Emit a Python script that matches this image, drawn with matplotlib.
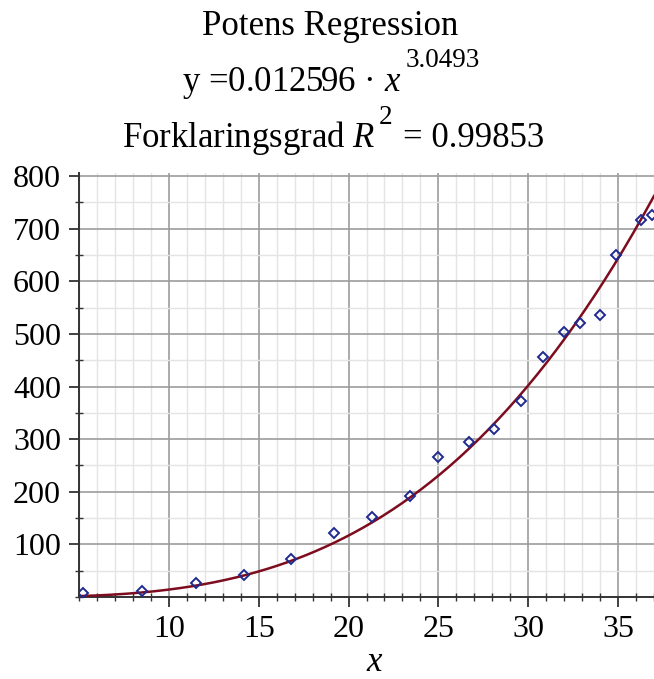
import numpy as np
import matplotlib
matplotlib.use("Agg")
import matplotlib.pyplot as plt
from matplotlib.ticker import MultipleLocator, FixedLocator

# maalte punkter (aflaest fra grafen)
x_data = [5.2, 8.5, 11.5, 14.2, 16.8, 19.2, 21.3, 23.4, 25.0, 26.7, 28.1,
          29.6, 30.8, 32.0, 32.9, 34.0, 34.9, 36.3, 36.9]
y_data = [8, 12, 26, 42, 72, 122, 153, 192, 266, 295, 319,
          372, 456, 504, 520, 537, 650, 717, 727]

# potens-regression y = a * x^b
a = 0.012596
b = 3.0493
r2 = 0.99853

x_ticks = [10, 15, 20, 25, 30, 35]
y_ticks = [100, 200, 300, 400, 500, 600, 700, 800]

plt.rcParams["font.family"] = "Liberation Serif"
plt.rcParams["mathtext.fontset"] = "custom"
plt.rcParams["mathtext.rm"] = "Liberation Serif"
plt.rcParams["mathtext.it"] = "Liberation Serif:italic"

W, H = 654, 679
fig = plt.figure(figsize=(W / 100, H / 100), dpi=100)
ax = fig.add_axes([79 / W, 82 / H, 1 - 79 / W, (597 - 173) / H])

xs = np.linspace(5, 37, 300)
ax.plot(xs, a * xs ** b, color="#7d0c1e", lw=1.8, zorder=3)
ax.plot(x_data, y_data, ls="none", marker="D", ms=5.2, mfc="none",
        mec="#1f2a8f", mew=1.4, zorder=4)

ax.set_xlim(5, 37)
ax.set_ylim(0, 806)
ax.xaxis.set_major_locator(FixedLocator(x_ticks))
ax.yaxis.set_major_locator(FixedLocator(y_ticks))
ax.xaxis.set_minor_locator(MultipleLocator(1))
ax.yaxis.set_minor_locator(MultipleLocator(50))

ax.grid(True, which="major", color="#9c9c9c", lw=1.2)
ax.grid(True, which="minor", color="#e4e4e4", lw=1.0)
ax.set_axisbelow(True)

for side in ["top", "right"]:
    ax.spines[side].set_visible(False)
for side in ["left", "bottom"]:
    ax.spines[side].set_color("#333333")
    ax.spines[side].set_linewidth(1.4)

ax.tick_params(which="major", direction="out", length=7, width=1.3,
               color="#333333", labelsize=23, pad=6)
ax.tick_params(which="minor", direction="inout", length=6, width=1.0,
               color="#333333")

# titel
fig.text(330 / W, 1 - 35 / H, "Potens Regression", ha="center",
         va="baseline", fontsize=25)
fig.text(182 / W, 1 - 91 / H, "y =0.012596 · $x$", ha="left",
         va="baseline", fontsize=25)
fig.text(406 / W, 1 - 67 / H, f"{b}", ha="left", va="baseline", fontsize=19.5)
fig.text(122 / W, 1 - 147 / H, "Forklaringsgrad $R$", ha="left",
         va="baseline", fontsize=25)
fig.text(379 / W, 1 - 124 / H, "2", ha="left", va="baseline", fontsize=19.5)
fig.text(403 / W, 1 - 147 / H, f"= {r2}", ha="left", va="baseline",
         fontsize=25)

fig.text(375 / W, 1 - 671 / H, "$x$", ha="center", va="baseline",
         fontsize=25)

fig.savefig("out.png", dpi=100)
